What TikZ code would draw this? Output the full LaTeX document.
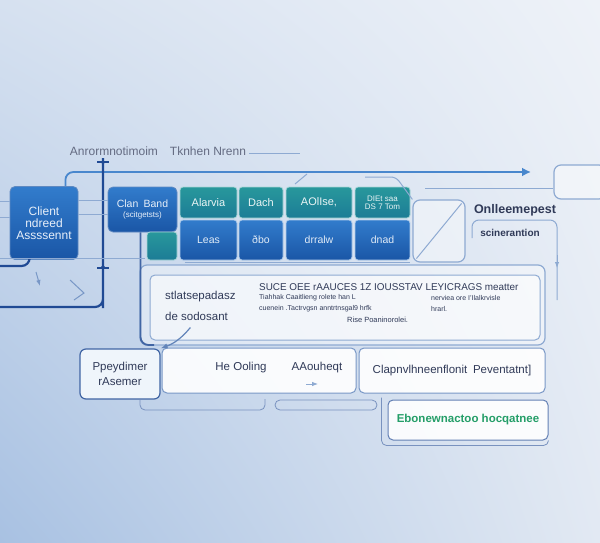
\documentclass[tikz,border=0pt]{standalone}
\usepackage{fontspec}
\setmainfont{Liberation Sans}
\usepackage{xcolor}
\usetikzlibrary{arrows.meta,calc,shadings}
\definecolor{boxblue}{RGB}{50,124,204}
\definecolor{boxblueD}{RGB}{26,86,166}
\definecolor{boxteal}{RGB}{40,152,156}
\definecolor{boxtealD}{RGB}{28,124,150}
\definecolor{lineblue}{RGB}{32,74,148}
\definecolor{paleline}{RGB}{142,170,210}
\definecolor{inktext}{RGB}{48,58,88}
\definecolor{greentext}{RGB}{36,158,104}
\definecolor{bgUL}{RGB}{214,225,240}
\definecolor{bgUR}{RGB}{238,242,248}
\definecolor{bgLL}{RGB}{168,193,226}
\definecolor{bgLR}{RGB}{226,233,243}
\tikzset{
  bluebox/.style={draw=boxblueD!70!white, line width=.8pt, top color=boxblue,
    bottom color=boxblueD, rounded corners=5pt, text=white!88!boxblue, align=center},
  tealbox/.style={draw=white!60!boxteal, line width=.8pt, top color=boxteal,
    bottom color=boxtealD, rounded corners=3pt, text=white!90!boxteal, align=center},
  cellbox/.style={draw=white!60!boxblue, line width=.8pt, top color=boxblue,
    bottom color=boxblueD, rounded corners=3pt, text=white!85!boxblue, align=center},
  framebox/.style={draw=lineblue!85, line width=1.2pt, fill=white!92!boxblue,
    rounded corners=6pt, text=inktext, align=center},
  whitebox/.style={draw=paleline!80!lineblue, line width=1pt, fill=white,
    fill opacity=.9, text opacity=1, rounded corners=5pt, text=inktext},
  ghostbox/.style={draw=paleline, line width=1.2pt, fill=white, fill opacity=.4,
    text opacity=1, rounded corners=7pt},
  pipe/.style={draw=lineblue, line width=2.2pt, rounded corners=8pt},
  softpipe/.style={draw=boxblue!75!paleline, line width=1.8pt, rounded corners=8pt},
  thinpipe/.style={draw=paleline, line width=1pt, rounded corners=5pt},
  txt/.style={text=inktext, inner sep=1pt},
}
\newcommand{\fsz}[1]{\fontsize{#1}{#1}\selectfont}

\begin{document}
\begin{tikzpicture}[x=1pt,y=-1pt]
  \useasboundingbox (0,0) rectangle (600,543);
  \clip (0,0) rectangle (600,543);
  % background
  \shade[upper left=bgUL, upper right=bgUR, lower left=bgLL, lower right=bgLR]
    (0,0) rectangle (600,543);

  % title
  \node[txt, text=inktext!75, font=\fsz{12}] (title) at (158,151)
    {Anrormnotimoim\quad Tknhen Nrenn};
  \draw[paleline, line width=.6pt] (title.east) ++(2,2) -- (300,153);

  % top row boxes
  \node[bluebox, minimum width=68, minimum height=73, font=\fsz{12}] (client)
    at (44,223) {Client\\ndreed\\Assssennt};
  \node[bluebox, minimum width=69, minimum height=45, font=\fsz{10.5}] (clan)
    at (142.5,209.5) {Clan\enspace Band\\{\fsz{8}(scitgetsts)}};
  \node[tealbox, minimum width=30, minimum height=28] (cup) at (162,246) {};

  % grid of cells
  \foreach \cx/\cw/\nm/\lbl in {208.5/57/a/Alarvia, 261/44/b/Dach, 319/66/c/{AOlIse,}}{
    \node[tealbox, minimum width=\cw, minimum height=31, font=\fsz{11}]
      (top\nm) at (\cx,202.5) {\lbl};
  }
  \node[tealbox, minimum width=55, minimum height=31, font=\fsz{8}]
    (topd) at (382.5,202.5) {DIEt saa\\DS 7 Tom};
  \foreach \cx/\cw/\nm/\lbl in {208.5/57/a/Leas, 261/44/b/ðbo,
      319/66/c/drralw, 382.5/55/d/dnad}{
    \node[cellbox, minimum width=\cw, minimum height=40, font=\fsz{10.5}]
      (bot\nm) at (\cx,240) {\lbl};
  }

  % split box and right side labels
  \node[ghostbox, minimum width=52, minimum height=62] (split) at (439,231) {};
  \draw[paleline, line width=1pt] ($(split.north east)+(-4,4)$)
    -- ($(split.south west)+(4,-4)$);
  \node[ghostbox, minimum width=52, minimum height=34] (corner) at (580,182) {};
  \node[txt, font=\bfseries\fsz{12.5}] (online) at (515,210) {Onlleemepest};
  \node[txt, font=\bfseries\fsz{10}] (scine) at (510,233) {scinerantion};

  % stage box
  \node[ghostbox, minimum width=405, minimum height=80] (stageout) at (342.5,305) {};
  \node[whitebox, draw=paleline, fill opacity=.55, minimum width=390,
    minimum height=65] (stage) at (345,307.5) {};
  \node[txt, anchor=west, font=\fsz{11.5}] (stlat) at (164,297) {stlatsepadasz};
  \node[txt, anchor=west, font=\fsz{11.5}] (desod) at (164,316) {de sodosant};
  \node[txt, anchor=west, font=\fsz{9.9}] (suce) at (258,287)
    {SUCE OEE rAAUCES 1Z IOUSSTAV LEYICRAGS meatter};
  \node[txt, anchor=west, font=\fsz{7}] (sm1) at (258,298)
    {Tiahhak Caaitlieng rolete han L};
  \node[txt, anchor=west, font=\fsz{7}] (sm2) at (258,309)
    {cuenein .Tactrvgsn anntrtnsgal9 hrfk};
  \node[txt, anchor=west, font=\fsz{7}] (sm3) at (430,298)
    {nerviea ore I'Ilalkrvisle};
  \node[txt, anchor=west, font=\fsz{7}] (sm4) at (430,309) {hrarl.};
  \node[txt, anchor=west, font=\fsz{7.5}] (rise) at (346,320) {Rise Poaninorolei.};

  % bottom row
  \node[framebox, minimum width=80, minimum height=50, font=\fsz{11.5}] (ppey)
    at (120,374) {Ppeydimer\\[4pt]rAsemer};
  \node[whitebox, minimum width=194, minimum height=45] (ooling) at (259,370.5) {};
  \node[txt, font=\fsz{11.5}] (heool) at (241,368) {He Ooling};
  \node[txt, font=\fsz{11.5}] (aaou) at (317,368) {AAouheqt};
  \node[whitebox, minimum width=186, minimum height=45, font=\fsz{11.5}] (clap)
    at (452,370.5) {Clapnvlhneenflonit\enspace Peventatnt]};
  \node[whitebox, draw=lineblue!70, minimum width=160, minimum height=40,
    text=greentext, font=\bfseries\fsz{11.5}] (ebone) at (468,420)
    {Ebonewnactoo hocqatnee};

  % brackets under the bottom row
  \draw[thinpipe, draw=lineblue!60, line width=.8pt] (140,400) |- (265,410) -- (265,399);
  \draw[thinpipe, draw=lineblue!60, line width=.8pt] (275,400) rectangle (377,410);
  \draw[thinpipe, draw=lineblue!60, line width=.8pt] (ebone.north west) ++(-6,-2)
    |- ($(ebone.south east)+(0,5)$) -- (ebone.south east);

  % pipes
  \coordinate (toptip) at (531,172);
  \draw[softpipe, -{Latex[length=9pt,width=9pt]}] ($(client.north east)+(-13,0)$)
    |- (toptip);
  \coordinate (vtop) at (103,158);
  \coordinate (vleft) at (0,307);
  \draw[pipe] (vtop) -- (103,300) -- (103,307) -- (vleft);
  \draw[lineblue, line width=1.5pt, -{Latex[length=5pt]}] (vtop) -- ++(0,9);
  \draw[lineblue, line width=1.5pt] (97,162) -- (109,162);
  \draw[lineblue, line width=1.5pt, -{Latex[length=5pt]}] (103,262) -- ++(0,9);
  \draw[lineblue, line width=1.5pt] (97,268) -- (109,268);
  \coordinate (lowleft) at (0,266);
  \draw[pipe] ($(client.south west)+(20,0)$) |- (lowleft);
  \draw[softpipe, draw=lineblue!85] (clan.south) ++(-2,0) |- (154,345);
  \draw[paleline!60!lineblue, line width=1.2pt, -{Latex[length=7pt]}]
    (stlat.south) ++(-10,24) to[bend left=15] (ppey.north east);

  % faint guide lines
  \draw[thinpipe] (0,201) -- (client.west |- 0,201);
  \draw[thinpipe] (0,217) -- (client.west |- 0,217);
  \draw[thinpipe] (client.east |- 0,200) -- (clan.west |- 0,200);
  \draw[thinpipe] (client.east |- 0,214) -- (clan.west |- 0,214);
  \draw[thinpipe] (0,258) -- (145,258);
  \draw[thinpipe] (botd.south west) ++(-170,2) -- ($(botd.south east)+(0,2)$);
  \draw[thinpipe] (307,174) -- (295,184);
  \draw[thinpipe] (365,177) -- (396,177) -- (split.north west);
  \draw[thinpipe, rounded corners=7pt] (472,238) -- (472,220) -- (557,220) -- (557,300);
  \draw[paleline, line width=1pt, -{Latex[length=6pt]}] (557,255) -- (557,268);
  \draw[thinpipe] (corner.west) ++(0,6) -- (425,188);
  \draw[paleline!80!lineblue, line width=1pt, -{Latex[length=6pt]}] (36,272) -- (40,286);
  \draw[paleline!80!lineblue, line width=1pt] (70,280) -- (84,293) -- (74,300);
  \draw[paleline, line width=.8pt, -{Latex[length=6pt]}] (306,384) -- (318,384);
\end{tikzpicture}
\end{document}
